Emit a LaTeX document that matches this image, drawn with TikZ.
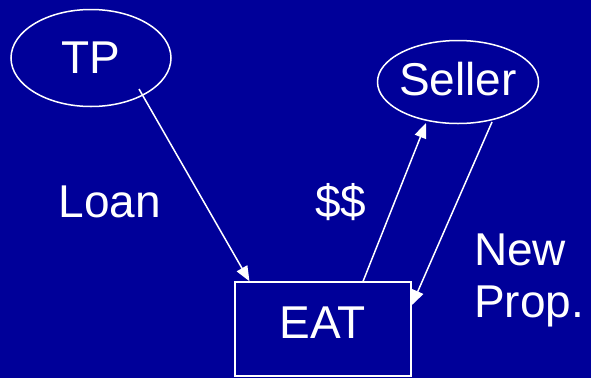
\documentclass[tikz,border=0pt]{standalone}
\usepackage{fontspec}
\setmainfont{Liberation Sans}
\usetikzlibrary{arrows.meta,shapes}
\definecolor{slideblue}{RGB}{0,0,153}

\begin{document}
\begin{tikzpicture}[x=1pt,y=-1pt,every node/.style={text=white,font=\fontsize{46}{52}\selectfont},
  blob/.style={draw=white,line width=1.5pt,ellipse,inner sep=0pt},
  box/.style={draw=white,line width=1.5pt,rectangle,inner sep=0pt},
  lbl/.style={inner sep=0pt},
  flow/.style={white,line width=1.5pt,-{Triangle[length=15pt,width=12pt]}}]
\fill[slideblue](0,0)rectangle(591,378);\useasboundingbox(0,0)rectangle(591,378);
\node[blob,minimum width=160pt,minimum height=97pt](tp)at(91,58){TP};
\node[blob,inner xsep=-3pt,minimum width=161pt,minimum height=83pt,text depth=7pt](seller)at(458,82){Seller};
\node[box,minimum width=176pt,minimum height=94pt,text height=33pt,text depth=15pt](eat)at(323,329){EAT};
\node[lbl,anchor=base](loan)at(110,217){Loan};\node[lbl,anchor=base](cash)at(341,217){\$\$};
\node[lbl,anchor=base west](new)at(474,265){New};\node[lbl,anchor=base west](prop)at(474,317){Prop.};
\draw[flow]([shift={(48,31)}]tp.center)--(eat.147);
\draw[flow](eat.50)--([shift={(-32,41)}]seller.center);
\draw[flow]([shift={(34,40)}]seller.center)--(eat.15);
\end{tikzpicture}
\end{document}
